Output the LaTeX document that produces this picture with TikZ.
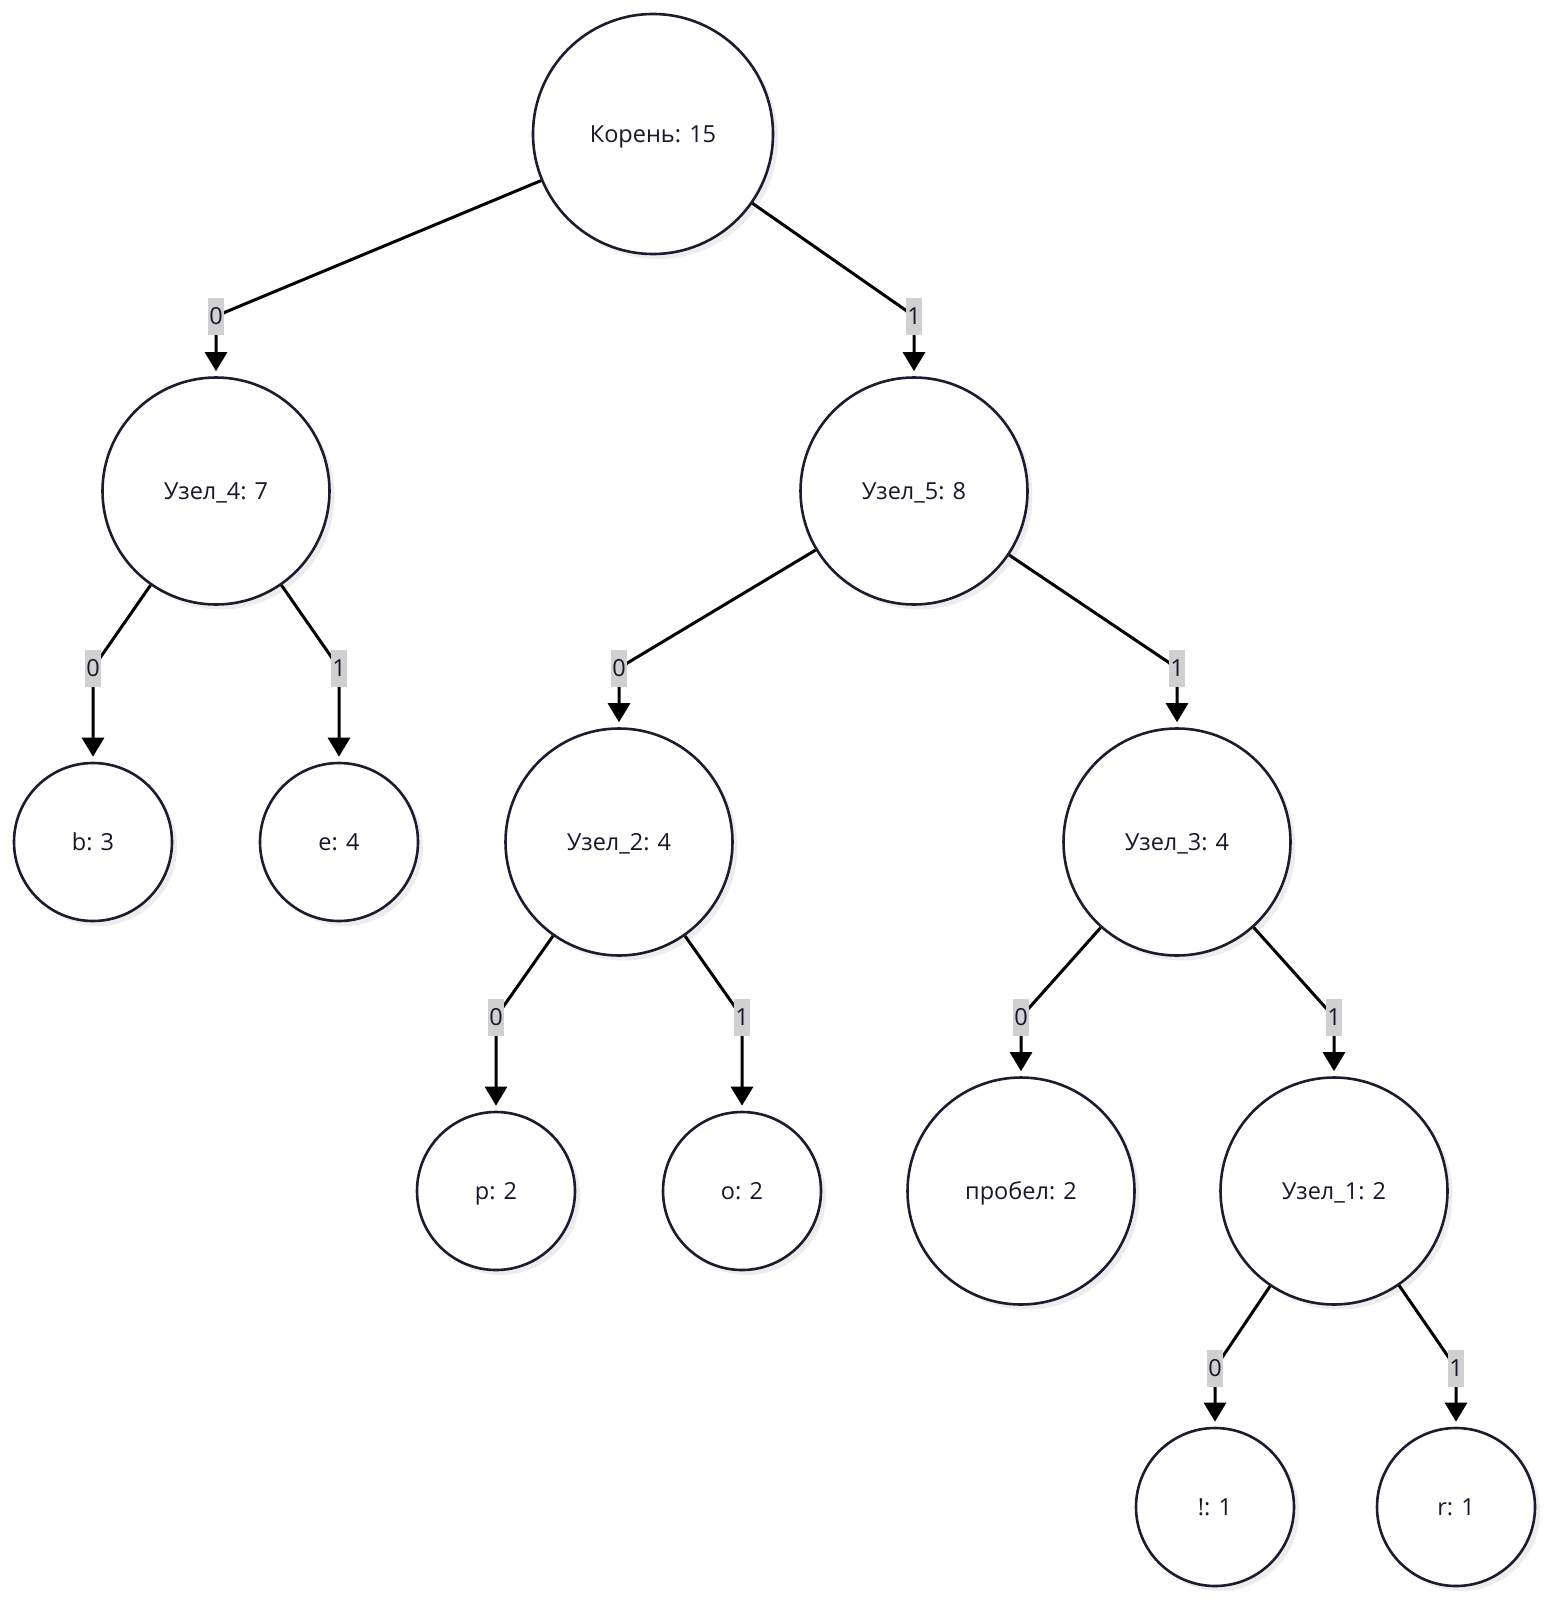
\documentclass[tikz,border=0pt]{standalone}
\usepackage{fontspec}
\setmainfont{Open Sans}
\usetikzlibrary{arrows.meta,shadows}
\definecolor{nodeline}{RGB}{28,28,48}
\definecolor{txt}{RGB}{24,24,44}
\definecolor{lblbg}{RGB}{208,208,208}
\begin{document}
\begin{tikzpicture}[x=1pt,y=-1pt,
  hnode/.style={circle, draw=nodeline, line width=2.6pt, fill=white, text=txt,
    font=\fontsize{23.5}{28}\selectfont, inner sep=0pt, text depth=0pt, text height=17pt,
    drop shadow={shadow xshift=5pt, shadow yshift=-5pt, fill=black!7, opacity=1}},
  rootnode/.style={hnode, minimum size=240pt},
  bignode/.style={hnode, minimum size=227pt},
  leafnode/.style={hnode, minimum size=158pt},
  elabel/.style={fill=lblbg, text=txt, inner xsep=1.5pt, inner ysep=0pt,
    minimum height=37pt, font=\fontsize{23.5}{28}\selectfont},
  conn/.style={draw=black, line width=3pt, rounded corners=10pt, shorten >=5pt,
    -{Triangle[width=22pt,length=19pt]}}]
\useasboundingbox (0,0) rectangle (1548,1600);
% nodes
\node[rootnode] (root) at (653,134) {Корень: 15};
\node[bignode] (n4) at (216,491) {Узел\_4: 7};
\node[bignode] (n5) at (914,491) {Узел\_5: 8};
\node[leafnode] (b) at (93,842) {b: 3};
\node[leafnode] (e) at (339,842) {e: 4};
\node[bignode] (n2) at (619,842) {Узел\_2: 4};
\node[bignode] (n3) at (1177,842) {Узел\_3: 4};
\node[leafnode] (p) at (496,1191) {p: 2};
\node[leafnode] (o) at (742,1191) {o: 2};
\node[bignode] (sp) at (1021,1191) {пробел: 2};
\node[bignode] (n1) at (1334,1191) {Узел\_1: 2};
\node[leafnode] (ex) at (1215,1507) {!: 1};
\node[leafnode] (r) at (1456,1507) {r: 1};
% label positions
\coordinate (c1) at (216,316);
\coordinate (c2) at (914,316);
\coordinate (c3) at (93,668);
\coordinate (c4) at (339,668);
\coordinate (c5) at (619,668);
\coordinate (c6) at (1177,668);
\coordinate (c7) at (496,1017);
\coordinate (c8) at (742,1017);
\coordinate (c9) at (1021,1017);
\coordinate (c10) at (1334,1017);
\coordinate (c11) at (1215,1368);
\coordinate (c12) at (1456,1368);
% connectors
\draw[conn] (root) -- (c1) -- (n4);
\draw[conn] (root) -- (c2) -- (n5);
\draw[conn] (n4) -- (c3) -- (b);
\draw[conn] (n4) -- (c4) -- (e);
\draw[conn] (n5) -- (c5) -- (n2);
\draw[conn] (n5) -- (c6) -- (n3);
\draw[conn] (n2) -- (c7) -- (p);
\draw[conn] (n2) -- (c8) -- (o);
\draw[conn] (n3) -- (c9) -- (sp);
\draw[conn] (n3) -- (c10) -- (n1);
\draw[conn] (n1) -- (c11) -- (ex);
\draw[conn] (n1) -- (c12) -- (r);
% edge labels
\node[elabel] (t1) at (c1) {0};
\node[elabel] (t2) at (c2) {1};
\node[elabel] (t3) at (c3) {0};
\node[elabel] (t4) at (c4) {1};
\node[elabel] (t5) at (c5) {0};
\node[elabel] (t6) at (c6) {1};
\node[elabel] (t7) at (c7) {0};
\node[elabel] (t8) at (c8) {1};
\node[elabel] (t9) at (c9) {0};
\node[elabel] (t10) at (c10) {1};
\node[elabel] (t11) at (c11) {0};
\node[elabel] (t12) at (c12) {1};
\end{tikzpicture}
\end{document}
